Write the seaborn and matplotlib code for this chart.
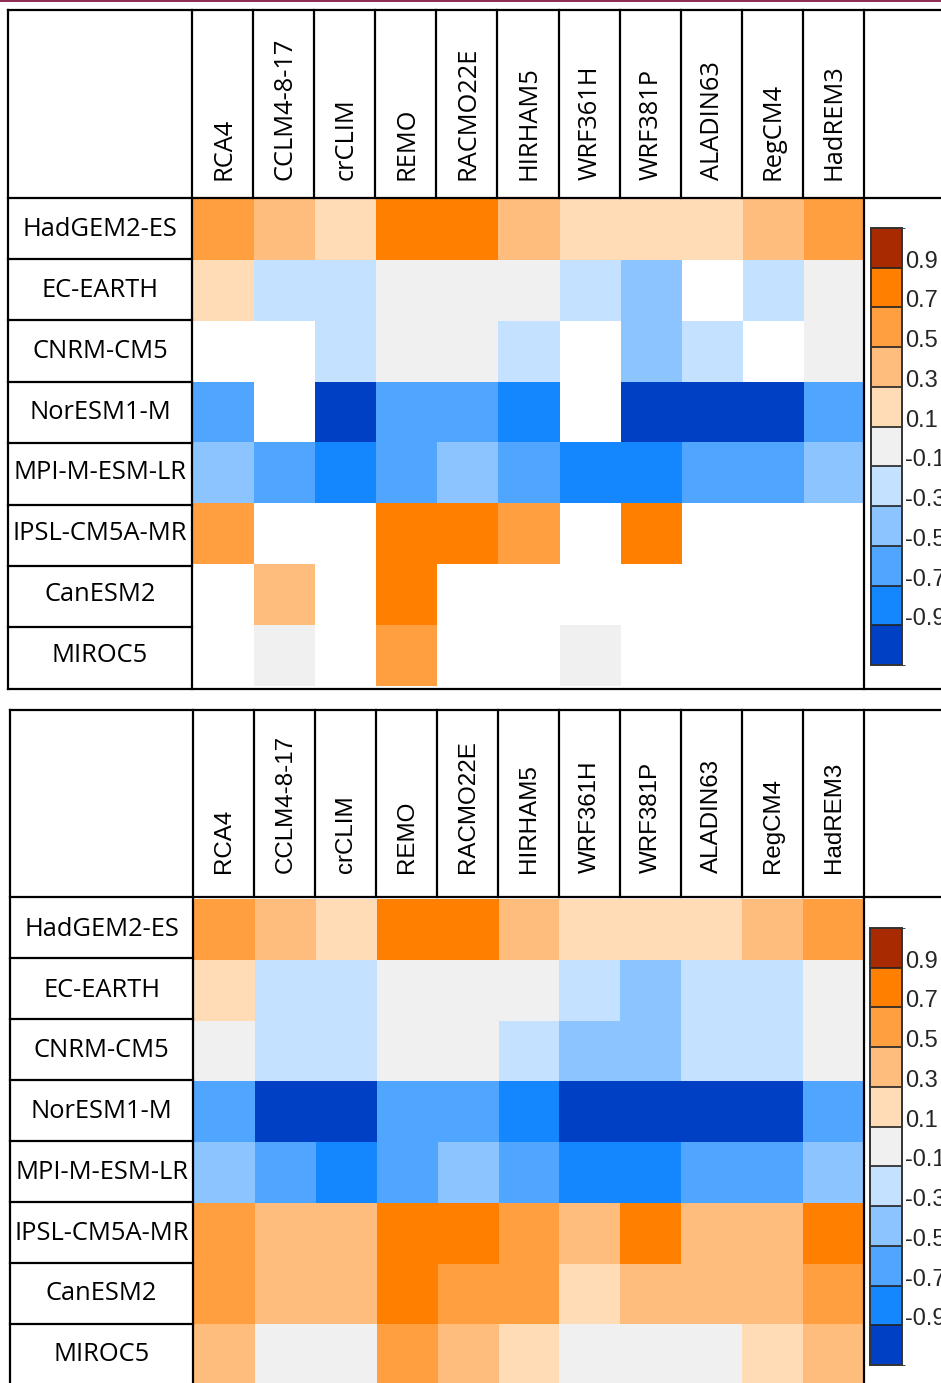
import numpy as np
import pandas as pd
import seaborn as sns
import matplotlib.pyplot as plt
from matplotlib.colors import ListedColormap, BoundaryNorm

# ---------------------------------------------------------------- data
gcms = ["HadGEM2-ES", "EC-EARTH", "CNRM-CM5", "NorESM1-M",
        "MPI-M-ESM-LR", "IPSL-CM5A-MR", "CanESM2", "MIROC5"]
rcms = ["RCA4", "CCLM4-8-17", "crCLIM", "REMO", "RACMO22E", "HIRHAM5",
        "WRF361H", "WRF381P", "ALADIN63", "RegCM4", "HadREM3"]

nan = np.nan

# available GCM/RCM combinations only (missing pairs left empty)
available = [
    [0.6, 0.4, 0.2, 0.8, 0.8, 0.4, 0.2, 0.2, 0.2, 0.4, 0.6],
    [0.2, -0.2, -0.2, 0.0, 0.0, 0.0, -0.2, -0.4, nan, -0.2, 0.0],
    [nan, nan, -0.2, 0.0, 0.0, -0.2, nan, -0.4, -0.2, nan, 0.0],
    [-0.6, nan, -1.0, -0.6, -0.6, -0.8, nan, -1.0, -1.0, -1.0, -0.6],
    [-0.4, -0.6, -0.8, -0.6, -0.4, -0.6, -0.8, -0.8, -0.6, -0.6, -0.4],
    [0.6, nan, nan, 0.8, 0.8, 0.6, nan, 0.8, nan, nan, nan],
    [nan, 0.4, nan, 0.8, nan, nan, nan, nan, nan, nan, nan],
    [nan, 0.0, nan, 0.6, nan, nan, 0.0, nan, nan, nan, nan],
]

# full matrix, gaps filled
filled = [
    [0.6, 0.4, 0.2, 0.8, 0.8, 0.4, 0.2, 0.2, 0.2, 0.4, 0.6],
    [0.2, -0.2, -0.2, 0.0, 0.0, 0.0, -0.2, -0.4, -0.2, -0.2, 0.0],
    [0.0, -0.2, -0.2, 0.0, 0.0, -0.2, -0.4, -0.4, -0.2, -0.2, 0.0],
    [-0.6, -1.0, -1.0, -0.6, -0.6, -0.8, -1.0, -1.0, -1.0, -1.0, -0.6],
    [-0.4, -0.6, -0.8, -0.6, -0.4, -0.6, -0.8, -0.8, -0.6, -0.6, -0.4],
    [0.6, 0.4, 0.4, 0.8, 0.8, 0.6, 0.4, 0.8, 0.4, 0.4, 0.8],
    [0.6, 0.4, 0.4, 0.8, 0.6, 0.6, 0.2, 0.4, 0.4, 0.4, 0.6],
    [0.4, 0.0, 0.0, 0.6, 0.4, 0.2, 0.0, 0.0, 0.0, 0.2, 0.4],
]

bounds = [-1.1, -0.9, -0.7, -0.5, -0.3, -0.1, 0.1, 0.3, 0.5, 0.7, 0.9, 1.1]
tick_levels = [-0.9, -0.7, -0.5, -0.3, -0.1, 0.1, 0.3, 0.5, 0.7, 0.9]
tick_text = ["-0.9", "-0.7", "-0.5", "-0.3", "-0.1",
             "0.1", "0.3", "0.5", "0.7", "0.9"]
palette = ["#0040c4", "#1487ff", "#50a5ff", "#8cc4ff", "#c4e1ff", "#f0f0f0",
           "#ffdcb5", "#ffbd7d", "#ff9f40", "#ff7f00", "#a82a00"]

# ---------------------------------------------------------------- style
sns.set_style("white")
plt.rcParams["font.family"] = ["Open Sans", "DejaVu Sans"]

W, H = 941, 1383
fig = plt.figure(figsize=(W / 100, H / 100), dpi=100)
fig.patch.set_facecolor("white")

cmap = ListedColormap(palette)
norm = BoundaryNorm(bounds, cmap.N)


def box(x0, y0, x1, y1):
    """pixel box (top-left origin) -> figure fraction rect"""
    return [x0 / W, 1 - y1 / H, (x1 - x0) / W, (y1 - y0) / H]


def panel(values, hm_box, cb_box, col_font, col_size, col_pad, row_pad):
    ax = fig.add_axes(box(*hm_box))
    cax = fig.add_axes(box(*cb_box))
    df = pd.DataFrame(values, index=gcms, columns=rcms)
    sns.heatmap(df, ax=ax, cbar_ax=cax, cmap=cmap, norm=norm,
                xticklabels=rcms, yticklabels=gcms, linewidths=0,
                cbar_kws=dict(ticks=tick_levels, drawedges=True))
    ax.set_xlabel("")
    ax.set_ylabel("")
    ax.tick_params(axis="x", top=True, bottom=False, labeltop=True,
                   labelbottom=False, length=0, pad=col_pad)
    for lbl in ax.get_xticklabels():
        lbl.set_rotation(90)
        lbl.set_family(col_font)
        lbl.set_fontsize(col_size)
        lbl.set_color("black")
    ax.tick_params(axis="y", length=0, pad=row_pad)
    for lbl in ax.get_yticklabels():
        lbl.set_rotation(0)
        lbl.set_ha("center")
        lbl.set_fontsize(18.4)
        lbl.set_color("black")

    cbar = ax.collections[0].colorbar
    cbar.outline.set_edgecolor("#333333")
    cbar.outline.set_linewidth(1.4)
    cbar.dividers.set_color("#222222")
    cbar.dividers.set_linewidth(1.2)
    cax.set_yticks(tick_levels)
    cax.set_yticklabels(tick_text)
    cax.tick_params(length=0, pad=2)
    for lbl in cax.get_yticklabels():
        lbl.set_family(["Liberation Sans", "DejaVu Sans"])
        lbl.set_fontsize(17)
        lbl.set_va("baseline")
    return ax


panel(available, (193, 199, 865, 686), (871, 228, 902, 665),
      ["Open Sans", "DejaVu Sans"], 18.3, 13.5, 67)
panel(filled, (194, 899, 864, 1385), (870, 928, 902, 1365),
      ["Liberation Sans", "DejaVu Sans"], 17.4, 18.5, 66.5)

# ---------------------------------------------------------------- table rules
ov = fig.add_axes([0, 0, 1, 1], zorder=10)
ov.set_xlim(0, W)
ov.set_ylim(H, 0)
ov.axis("off")
ov.patch.set_alpha(0)

LW = 1.6


def table(left, top, label_right, header_bottom, col_w, row_h, nc, nr):
    bottom = header_bottom + nr * row_h
    grid_right = label_right + nc * col_w
    kw = dict(color="black", lw=LW, solid_capstyle="projecting")
    # outer frame and header rule
    for y in (top, header_bottom, bottom):
        ov.plot([left, W + 5], [y, y], **kw)
    ov.plot([left, left], [top, bottom], **kw)
    ov.plot([label_right, label_right], [top, bottom], **kw)
    ov.plot([grid_right, grid_right], [top, bottom], **kw)
    # column separators in the header
    for i in range(1, nc):
        x = label_right + i * col_w
        ov.plot([x, x], [top, header_bottom], **kw)
    # row separators in the label column
    for j in range(1, nr):
        y = header_bottom + j * row_h
        ov.plot([left, label_right], [y, y], **kw)


table(8, 10, 192, 197.5, 61.1, 61.4, len(rcms), len(gcms))
table(10, 709.5, 193, 897, 61.0, 61.0, len(rcms), len(gcms))

# page rule at the very top
ov.plot([0, W], [1.2, 1.2], color="#8c2a52", lw=1.4)

fig.savefig("out.png", dpi=100, facecolor="white")
